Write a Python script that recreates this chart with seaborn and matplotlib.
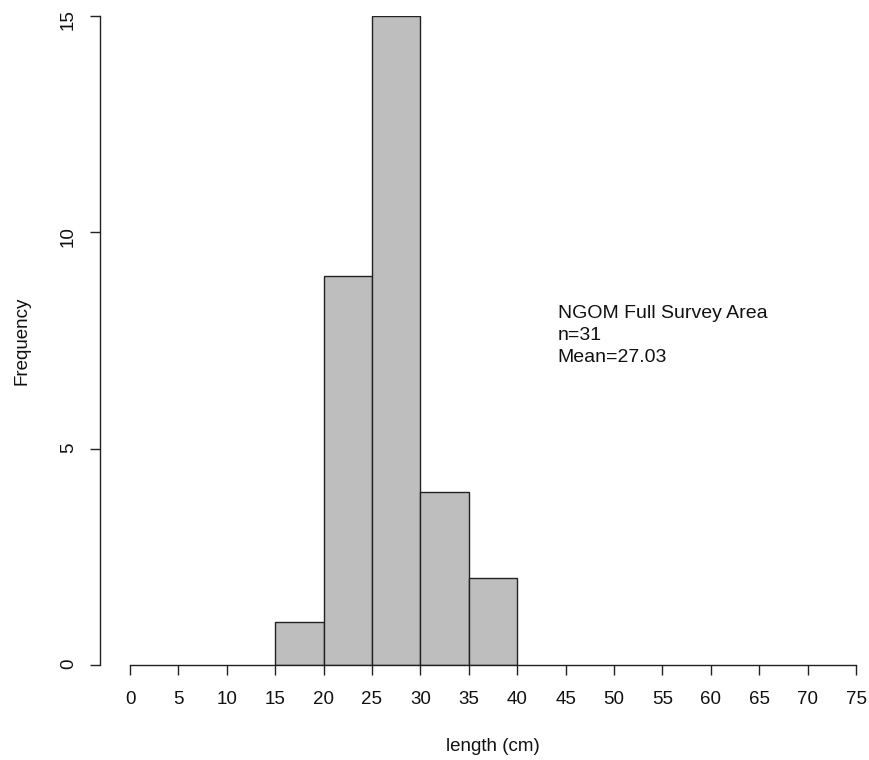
import seaborn as sns
import matplotlib.pyplot as plt

# histogram bins (cm) and frequencies
bin_edges = [15, 20, 25, 30, 35, 40]
bin_mids = [17.5, 22.5, 27.5, 32.5, 37.5]
counts = [1, 9, 15, 4, 2]
x_ticks = list(range(0, 80, 5))
y_ticks = [0, 5, 10, 15]
note_lines = ["NGOM Full Survey Area", "n=31", "Mean=27.03"]


def length_hist(ax):
    """Draws the R-style length frequency histogram"""
    sns.histplot(x=bin_mids, weights=counts, bins=bin_edges, color="#BEBEBE",
                 edgecolor="#222222", linewidth=1.0, alpha=1, ax=ax)
    ax.set_xlim(0, 75)
    ax.set_ylim(0, 15)
    ax.set_xticks(x_ticks)
    ax.set_yticks(y_ticks)
    ax.tick_params(axis="both", length=7.5, width=1, color="#222222",
                   labelcolor="#111111", labelsize=13.5, pad=11)
    ax.tick_params(axis="y", labelrotation=90, pad=9)
    for lab in ax.get_yticklabels():
        lab.set_va("center")
    for side in ["top", "right"]:
        ax.spines[side].set_visible(False)
    for side in ["left", "bottom"]:
        ax.spines[side].set_color("#222222")
        ax.spines[side].set_linewidth(1)
    ax.spines["left"].set_position(("outward", 21.6))
    ax.set_xlabel("length (cm)", fontsize=13.5, labelpad=22, color="#111111")
    ax.set_ylabel("Frequency", fontsize=13.5, labelpad=21, color="#111111")
    ax.text(44.2, 8.32, "\n".join(note_lines), fontsize=14, va="top",
            ha="left", linespacing=1.4, color="#111111")
    return ax


if __name__ == "__main__":
    sns.set_style("ticks")
    plt.rcParams["font.family"] = ["Liberation Sans", "DejaVu Sans"]
    fig = plt.figure(figsize=(8.69, 7.6), dpi=100)
    ax = fig.add_axes([130 / 869, 95 / 760, 726 / 869, 649 / 760])
    length_hist(ax)
    fig.savefig("out.png", dpi=100)
